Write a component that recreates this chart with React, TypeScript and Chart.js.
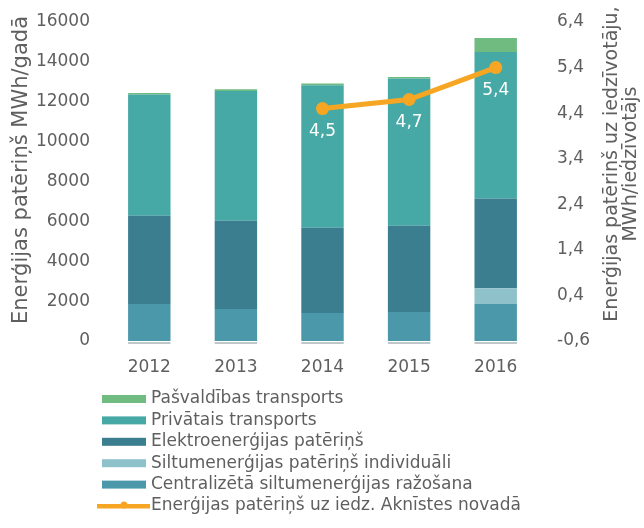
import React, { useEffect, useRef } from "react";
import { Chart, registerables } from "chart.js";

Chart.register(...registerables);

const years = ["2012", "2013", "2014", "2015", "2016"];
const centralizeta = [1854, 1600, 1400, 1450, 1854];
const individuali = [0, 0, 0, 0, 786];
const elektro = [4424, 4427, 4276, 4327, 4510];
const privatais = [6082, 6518, 7154, 7385, 7344];
const pasvaldibas = [80, 80, 80, 80, 702];
const perCapita = [null, null, 4.5, 4.7, 5.4];

const leftTitle = "Enerģijas patēriņš MWh/gadā";
const rightTitle = ["Enerģijas patēriņš uz iedzīvotāju,", "MWh/iedzīvotājs"];

const FONT = "'DejaVu Sans', sans-serif";
const TEXT = "#5f5f5f";

const fmt = (v: number) => v.toFixed(1).replace(".", ",");

const extrasPlugin = {
  id: "extras",
  afterDatasetsDraw(chart: any) {
    const ctx = chart.ctx;
    const area = chart.chartArea;
    const meta0 = chart.getDatasetMeta(0);
    ctx.save();
    ctx.strokeStyle = "#a9b4b8";
    ctx.lineWidth = 1.5;
    meta0.data.forEach((bar: any) => {
      ctx.beginPath();
      ctx.moveTo(bar.x - bar.width / 2, area.bottom + 2);
      ctx.lineTo(bar.x + bar.width / 2, area.bottom + 2);
      ctx.stroke();
    });
    const lineIdx = chart.data.datasets.length - 1;
    const lm = chart.getDatasetMeta(lineIdx);
    ctx.fillStyle = "#ffffff";
    ctx.font = "17px " + FONT;
    ctx.textAlign = "center";
    ctx.textBaseline = "middle";
    lm.data.forEach((pt: any, i: number) => {
      const v = chart.data.datasets[lineIdx].data[i];
      if (v === null || v === undefined) return;
      ctx.fillText(fmt(v), pt.x, pt.y + 23);
    });
    ctx.restore();
  },
  afterDraw(chart: any) {
    const ctx = chart.ctx;
    ctx.save();
    ctx.fillStyle = TEXT;
    ctx.font = "21px " + FONT;
    ctx.textAlign = "center";
    ctx.textBaseline = "middle";
    ctx.save();
    ctx.translate(22, 170);
    ctx.rotate(-Math.PI / 2);
    ctx.fillText(leftTitle, 0, 0);
    ctx.restore();
    ctx.font = "19px " + FONT;
    ctx.save();
    ctx.translate(612, 164);
    ctx.rotate(-Math.PI / 2);
    ctx.fillText(rightTitle[0], 0, 0);
    ctx.fillText(rightTitle[1], 0, 19);
    ctx.restore();

    const ds = chart.data.datasets;
    const order = [4, 3, 2, 1, 0, 5];
    ctx.font = "17px " + FONT;
    ctx.textAlign = "left";
    order.forEach((idx, row) => {
      const y = 399 + row * 21.4;
      const d = ds[idx];
      if (d.type === "line") {
        ctx.fillStyle = d.borderColor;
        ctx.fillRect(97, y - 2, 53, 4.5);
        ctx.beginPath();
        ctx.arc(124, y - 1, 3.5, 0, Math.PI * 2);
        ctx.fill();
      } else {
        ctx.fillStyle = d.backgroundColor;
        ctx.fillRect(102, y - 4, 44, 8);
      }
      ctx.fillStyle = TEXT;
      ctx.fillText(d.label, 151, y);
    });
    ctx.restore();
  },
};

export default function App() {
  const ref = useRef<HTMLCanvasElement | null>(null);
  useEffect(() => {
    if (!ref.current) return;
    const tickFont = { family: FONT, size: 17 };
    const chart = new Chart(ref.current, {
      type: "bar",
      data: {
        labels: years,
        datasets: [
          { label: "Centralizētā siltumenerģijas ražošana", data: centralizeta, backgroundColor: "#4c98ab", yAxisID: "y", order: 1 },
          { label: "Siltumenerģijas patēriņš individuāli", data: individuali, backgroundColor: "#8fc1cb", yAxisID: "y", order: 1 },
          { label: "Elektroenerģijas patēriņš", data: elektro, backgroundColor: "#3b7e8f", yAxisID: "y", order: 1 },
          { label: "Privātais transports", data: privatais, backgroundColor: "#47a9a5", yAxisID: "y", order: 1 },
          { label: "Pašvaldības transports", data: pasvaldibas, backgroundColor: "#6fbb80", yAxisID: "y", order: 1 },
          {
            type: "line",
            label: "Enerģijas patēriņš uz iedz. Aknīstes novadā",
            data: perCapita,
            yAxisID: "y1",
            borderColor: "#f6a623",
            backgroundColor: "#f6a623",
            borderWidth: 5,
            pointRadius: 6.5,
            pointBackgroundColor: "#f6a623",
            pointBorderWidth: 0,
            spanGaps: false,
            order: 0,
          } as any,
        ],
      },
      options: {
        responsive: false,
        animation: false,
        layout: { padding: { top: 22, bottom: 150, left: 0, right: 0 } },
        datasets: { bar: { categoryPercentage: 1, barPercentage: 0.49 } },
        plugins: { legend: { display: false }, tooltip: { enabled: false } },
        scales: {
          x: {
            stacked: true,
            grid: { display: false, drawTicks: false },
            border: { display: false },
            ticks: { font: tickFont, color: TEXT, padding: 16 },
            afterFit: (s: any) => { s.height = 37; },
          },
          y: {
            stacked: true,
            position: "left",
            min: 0,
            max: 16000,
            grid: { display: false, drawTicks: false },
            border: { display: false },
            ticks: { stepSize: 2000, font: tickFont, color: TEXT, padding: 16, callback: (v: any) => String(v) },
            afterFit: (s: any) => { s.width = 106; s.paddingTop = 0; s.paddingBottom = 0; },
          },
          y1: {
            position: "right",
            min: -0.6,
            max: 6.4,
            grid: { display: false, drawTicks: false },
            border: { display: false },
            ticks: { stepSize: 1, font: tickFont, color: TEXT, padding: 18, callback: (v: any) => fmt(Number(v)) },
            afterFit: (s: any) => { s.width = 105; s.paddingTop = 0; s.paddingBottom = 0; },
          },
        },
      } as any,
      plugins: [extrasPlugin],
    });
    return () => chart.destroy();
  }, []);
  return (
    <div style={{ position: "fixed", left: 0, top: 0, width: 644, height: 528, background: "#fff" }}>
      <canvas ref={ref} width={644} height={528} style={{ display: "block" }} />
    </div>
  );
}
